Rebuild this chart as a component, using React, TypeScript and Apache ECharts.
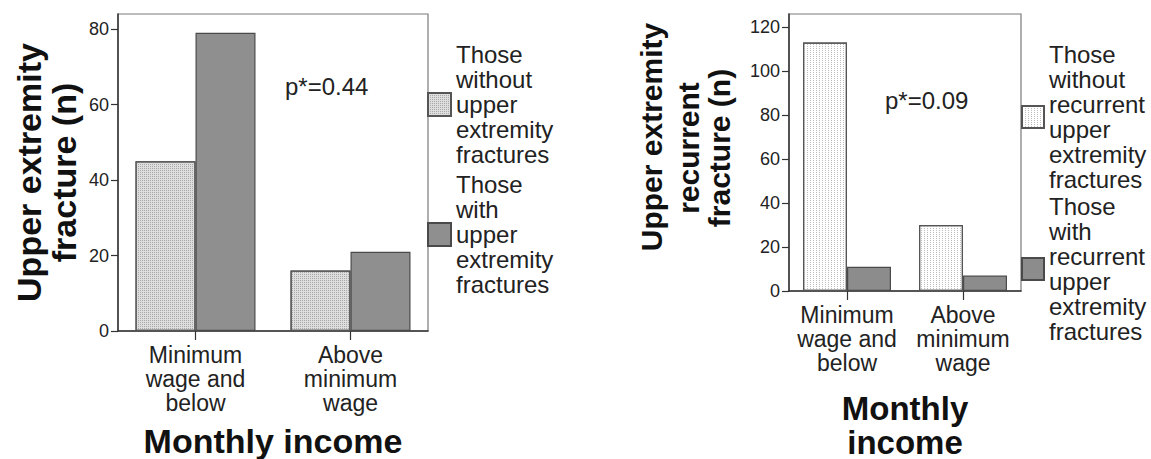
import React, { useEffect, useRef } from "react";
import * as echarts from "echarts";

const FONT = '"Liberation Sans", Arial, Helvetica, sans-serif';

const categories = ["Minimum\nwage and\nbelow", "Above\nminimum\nwage"];

const leftSeriesNames = [
  "Those without upper extremity fractures",
  "Those with upper extremity fractures",
];
const leftLegendLabels = [
  "Those\nwithout\nupper\nextremity\nfractures",
  "Those\nwith\nupper\nextremity\nfractures",
];
const leftWithout = [45, 16];
const leftWith = [79, 21];
const leftTicks = [0, 20, 40, 60, 80];

const rightSeriesNames = [
  "Those without recurrent upper extremity fractures",
  "Those with recurrent upper extremity fractures",
];
const rightLegendLabels = [
  "Those\nwithout\nrecurrent\nupper\nextremity\nfractures",
  "Those\nwith\nrecurrent\nupper\nextremity\nfractures",
];
const rightWithout = [113, 30];
const rightWith = [11, 7];
const rightTicks = [0, 20, 40, 60, 80, 100, 120];
const rightYTitleLines = ["Upper extremity", "recurrent", "fracture (n)"];

const legendMap: Record<string, string> = {};
leftSeriesNames.forEach((n, i) => (legendMap[n] = leftLegendLabels[i]));
rightSeriesNames.forEach((n, i) => (legendMap[n] = rightLegendLabels[i]));

const AXIS_COLOR = "#333";
const LABEL_COLOR = "#222";

function xAxisFor(gridIndex: number, name: string, nameGap: number, nameSize: number, lineHeight: number) {
  return {
    type: "category",
    gridIndex,
    data: categories,
    axisLine: { show: true, lineStyle: { color: AXIS_COLOR, width: 1.5 } },
    axisTick: { show: true, alignWithLabel: true, length: 9, lineStyle: { color: AXIS_COLOR, width: 1.2 } },
    axisLabel: {
      fontSize: 23,
      lineHeight: 24,
      margin: 12,
      color: LABEL_COLOR,
      fontFamily: FONT,
      interval: 0,
    },
    name,
    nameLocation: "middle",
    nameGap,
    nameTruncate: { maxWidth: 2000 },
    nameTextStyle: {
      fontSize: nameSize,
      fontWeight: "bold",
      lineHeight,
      color: "#111",
      fontFamily: FONT,
    },
  };
}

function yAxisFor(
  gridIndex: number,
  max: number,
  ticks: number[],
  name: string,
  nameGap: number,
  nameSize: number,
  nameLineHeight: number
) {
  return {
    type: "value",
    gridIndex,
    min: 0,
    max,
    interval: 20,
    splitLine: { show: false },
    axisLine: { show: true, lineStyle: { color: AXIS_COLOR, width: 1.5 } },
    axisTick: { show: true, length: 7, customValues: ticks, lineStyle: { color: AXIS_COLOR, width: 1.2 } },
    axisLabel: {
      customValues: ticks,
      fontSize: 18,
      margin: 9,
      color: LABEL_COLOR,
      fontFamily: FONT,
    },
    name,
    nameLocation: "middle",
    nameGap,
    nameRotate: 90,
    nameTruncate: { maxWidth: 2000 },
    nameTextStyle: {
      fontSize: nameSize,
      fontWeight: "bold",
      lineHeight: nameLineHeight,
      color: "#111",
      fontFamily: FONT,
    },
  };
}

const lightLeftDecal = {
  symbol: "rect",
  symbolSize: 1,
  dashArrayX: [1, 1],
  dashArrayY: [1, 1],
  color: "#a8a8a8",
  rotation: 0,
};
const lightRightDecal = {
  symbol: "rect",
  symbolSize: 1,
  dashArrayX: [1, 2],
  dashArrayY: [1, 1],
  color: "#bdbdbd",
  rotation: 0,
};

export default function App() {
  const ref = useRef<HTMLDivElement>(null);
  useEffect(() => {
    if (!ref.current) return;
    const chart = echarts.init(ref.current, undefined, { renderer: "svg" });
    const gridCommon = {
      show: true,
      borderColor: "#7a7a7a",
      borderWidth: 1.2,
      containLabel: false,
      outerBoundsMode: "none",
    };
    const titleXs = [651, 688, 719];
    const titleYs = [137, 148, 148];
    const option = {
      animation: false,
      backgroundColor: "#ffffff",
      textStyle: { fontFamily: FONT },
      grid: [
        { ...gridCommon, left: 118, top: 14, width: 310, height: 317 },
        { ...gridCommon, left: 789, top: 14, width: 232, height: 277 },
      ],
      xAxis: [
        xAxisFor(0, "Monthly income", 93, 34, 34),
        xAxisFor(1, "Monthly\nincome", 100, 33, 34),
      ],
      yAxis: [
        yAxisFor(0, 84, leftTicks, "Upper extremity\nfracture (n)", 37, 34, 35),
        yAxisFor(1, 126, rightTicks, "", 52, 30, 34),
      ],
      legend: [
        {
          data: leftSeriesNames,
          orient: "vertical",
          left: 427,
          top: 42,
          padding: 0,
          itemWidth: 23,
          itemHeight: 23,
          itemGap: 5,
          icon: "rect",
          selectedMode: false,
          formatter: (n: string) => legendMap[n],
          textStyle: { fontSize: 24, lineHeight: 25, color: LABEL_COLOR, fontFamily: FONT },
        },
        {
          data: rightSeriesNames,
          orient: "vertical",
          left: 1021,
          top: 42,
          padding: 0,
          itemWidth: 22,
          itemHeight: 22,
          itemGap: 2,
          icon: "rect",
          selectedMode: false,
          formatter: (n: string) => legendMap[n],
          textStyle: { fontSize: 24, lineHeight: 25, color: LABEL_COLOR, fontFamily: FONT },
        },
      ],
      graphic: [
        {
          type: "text",
          x: 285,
          y: 86,
          style: { text: "p*=0.44", fontSize: 24, fontFamily: FONT, fill: LABEL_COLOR, verticalAlign: "middle" },
        },
        {
          type: "text",
          x: 885,
          y: 100,
          style: { text: "p*=0.09", fontSize: 24, fontFamily: FONT, fill: LABEL_COLOR, verticalAlign: "middle" },
        },
        ...rightYTitleLines.map((t, i) => ({
          type: "text",
          x: titleXs[i],
          y: titleYs[i],
          rotation: Math.PI / 2,
          style: {
            text: t,
            fontSize: 30,
            fontWeight: "bold",
            fontFamily: FONT,
            fill: "#111",
            align: "center",
            verticalAlign: "middle",
          },
        })),
      ],
      series: [
        {
          name: leftSeriesNames[0],
          type: "bar",
          xAxisIndex: 0,
          yAxisIndex: 0,
          data: leftWithout,
          barWidth: 60,
          barGap: "0%",
          itemStyle: { color: "#dedede", borderColor: "#555", borderWidth: 1.2, decal: lightLeftDecal },
        },
        {
          name: leftSeriesNames[1],
          type: "bar",
          xAxisIndex: 0,
          yAxisIndex: 0,
          data: leftWith,
          barWidth: 60,
          barGap: "0%",
          itemStyle: { color: "#8f8f8f", borderColor: "#4a4a4a", borderWidth: 1.2 },
        },
        {
          name: rightSeriesNames[0],
          type: "bar",
          xAxisIndex: 1,
          yAxisIndex: 1,
          data: rightWithout,
          barWidth: 44,
          barGap: "0%",
          itemStyle: { color: "#ffffff", borderColor: "#555", borderWidth: 1.2, decal: lightRightDecal },
        },
        {
          name: rightSeriesNames[1],
          type: "bar",
          xAxisIndex: 1,
          yAxisIndex: 1,
          data: rightWith,
          barWidth: 44,
          barGap: "0%",
          itemStyle: { color: "#8c8c8c", borderColor: "#4a4a4a", borderWidth: 1.2 },
        },
      ],
    };
    chart.setOption(option as any);
    return () => chart.dispose();
  }, []);
  return (
    <div
      ref={ref}
      style={{ position: "fixed", left: 0, top: 0, width: 1151, height: 459, background: "#fff" }}
    />
  );
}
